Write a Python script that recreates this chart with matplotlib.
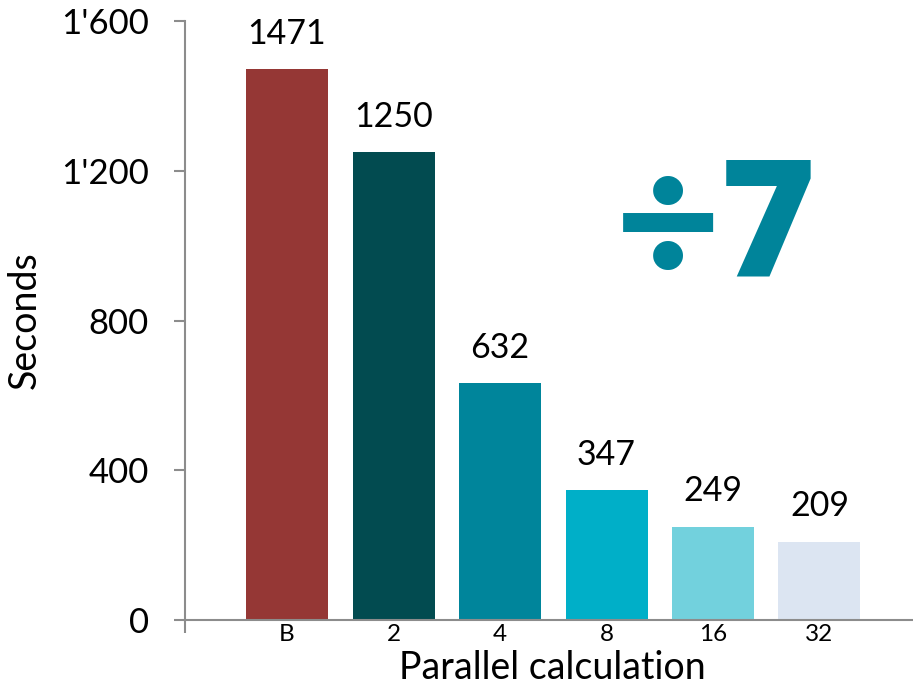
import matplotlib
matplotlib.use('Agg')
from matplotlib import pyplot as plt
import numpy as np

plt.rcParams['font.family'] = ['Lato', 'DejaVu Sans']

categories = ['B', '2', '4', '8', '16', '32']
seconds = [1471, 1250, 632, 347, 249, 209]
colors = ['#953735', '#024B50', '#00859B', '#00AFC8', '#72D1DD', '#DCE5F2']
yticks = [0, 400, 800, 1200, 1600]
ytick_labels = ['0', "400", "800", "1'200", "1'600"]

fig = plt.figure(figsize=(9.13, 6.86), dpi=100)
ax = fig.add_axes([185/913, 1-620/686, 728/913, 599/686])

x = np.arange(len(categories))
bars = ax.bar(x, seconds, width=0.77, color=colors)

for xi, v in zip(x, seconds):
    ax.annotate(str(v), (xi, v), xytext=(0, 14), textcoords='offset points',
                ha='center', va='bottom', fontsize=24.5)

ax.set_xlim(-0.958, 5.878)
ax.set_ylim(0, 1600)
ax.set_yticks(yticks)
ax.set_yticklabels(ytick_labels, fontsize=25)
ax.set_xticks(x)
ax.set_xticklabels(categories, fontsize=17.5)

grey = '#8C8C8C'
for s in ['top', 'right']:
    ax.spines[s].set_visible(False)
for s in ['left', 'bottom']:
    ax.spines[s].set_color(grey)
    ax.spines[s].set_linewidth(1.5)

ax.tick_params(axis='y', direction='out', length=8, width=1.5, color=grey, pad=18)
ax.tick_params(axis='x', length=0, pad=3)
# small tick at the left end of the category axis
ax.set_xticks([-0.958], minor=True)
ax.tick_params(axis='x', which='minor', direction='out', length=9, width=1.5, color=grey)

ax.set_ylabel('Seconds', fontsize=27)
ax.yaxis.set_label_coords(-0.196, 0.5)
ax.set_xlabel('Parallel calculation', fontsize=27)
ax.xaxis.set_label_coords(0.504, -0.05)

# big "divided by 7" callout
fig.text(668/913, 1-231/686, '\u00f7', fontsize=132, fontweight='black',
         color='#00849A', ha='center', va='center')
fig.text(768/913, 1-233/686, '7', fontsize=118, fontweight='heavy',
         family='Open Sans', color='#00849A', ha='center', va='center')

plt.savefig('out.png', dpi=100)
